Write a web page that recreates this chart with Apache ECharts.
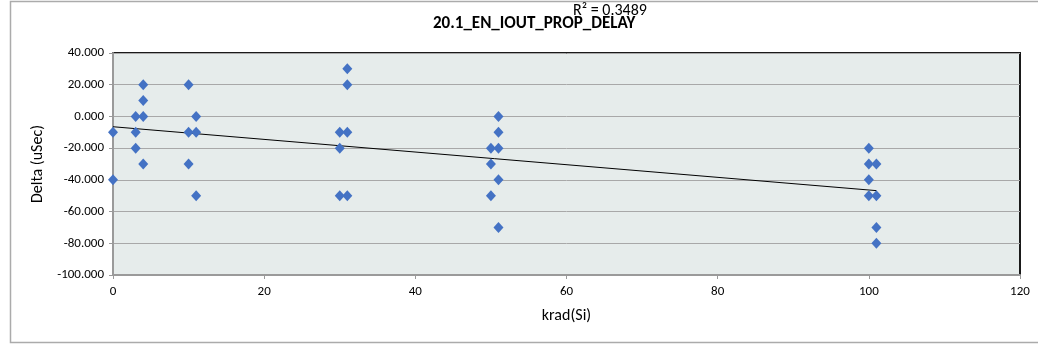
<!DOCTYPE html>
<html>
<head>
<meta charset="utf-8">
<script src="https://cdn.jsdelivr.net/npm/echarts@6/dist/echarts.min.js"></script>
<style>
  html, body { margin: 0; padding: 0; background: #fff; }
  #chart { width: 1038px; height: 346px; }
</style>
</head>
<body>
<div id="chart"></div>
<script>
var titleText = '20.1_EN_IOUT_PROP_DELAY';
var r2Text = 'R\u00b2 = 0.3489';
var xAxisName = 'krad(Si)';
var yAxisName = 'Delta (uSec)';

// dose (krad) for each measurement
var doseValues = [
  0, 0,
  3, 3, 3,
  4, 4, 4, 4,
  10, 10, 10,
  11, 11, 11,
  30, 30, 30,
  31, 31, 31, 31,
  50, 50, 50,
  51, 51, 51, 51, 51,
  100, 100, 100, 100,
  101, 101, 101, 101
];
// delta (uSec) for each measurement
var deltaValues = [
  -10, -40,
  0, -10, -20,
  20, 10, 0, -30,
  20, -10, -30,
  0, -10, -50,
  -10, -20, -50,
  30, 20, -10, -50,
  -20, -30, -50,
  0, -10, -20, -40, -70,
  -20, -30, -40, -50,
  -30, -50, -70, -80
];
// linear trendline end points
var trendX = [0, 101];
var trendY = [-6.5, -46.8];

var points = doseValues.map(function (x, i) { return [x, deltaValues[i]]; });
var trend = trendX.map(function (x, i) { return [x, trendY[i]]; });

var font = "'Carlito', 'Liberation Sans', Arial, sans-serif";

var chart = echarts.init(document.getElementById('chart'), null, { renderer: 'canvas' });
chart.setOption({
  animation: false,
  backgroundColor: '#ffffff',
  textStyle: { fontFamily: font },
  graphic: [
    { type: 'rect', z: -10, shape: { x: 10.5, y: 1.5, width: 1040, height: 341 },
      style: { fill: 'none', stroke: '#ABABAB', lineWidth: 1.5 } },
    { type: 'text', left: 433, top: 15, z: 10,
      style: { text: titleText, font: 'bold 17px ' + font, fill: '#000' } },
    { type: 'text', left: 573, top: 3, z: 11,
      style: { text: r2Text, font: '16px ' + font, fill: '#000' } }
  ],
  grid: {
    left: 113, right: 18, top: 53, bottom: 71,
    show: true, backgroundColor: '#E6ECEB', borderColor: '#1a1a1a', borderWidth: 2
  },
  xAxis: {
    type: 'value', min: 0, max: 120, interval: 20,
    name: xAxisName, nameLocation: 'middle', nameGap: 33,
    nameTextStyle: { fontSize: 16, color: '#000', fontFamily: font },
    axisLine: { show: true, onZero: false, lineStyle: { color: '#9A9A9A', width: 2 } },
    axisTick: { show: true, length: 4, lineStyle: { color: '#9A9A9A' } },
    axisLabel: { fontSize: 13, color: '#000', margin: 10, fontFamily: font },
    splitLine: { show: false }
  },
  yAxis: {
    type: 'value', min: -100, max: 40, interval: 20,
    name: yAxisName, nameLocation: 'middle', nameGap: 62, nameRotate: 90,
    nameTextStyle: { fontSize: 16, color: '#000', fontFamily: font },
    axisLine: { show: true, onZero: false, lineStyle: { color: '#9A9A9A', width: 2 } },
    axisTick: { show: true, length: 4, lineStyle: { color: '#9A9A9A' } },
    axisLabel: { fontSize: 13, color: '#000', margin: 9, fontFamily: font,
      formatter: function (v) { return v.toFixed(3); } },
    splitLine: { show: true, lineStyle: { color: '#A8A8A8', width: 1 } }
  },
  series: [
    {
      type: 'line', data: trend, symbol: 'none', silent: true, z: 3,
      lineStyle: { color: '#000', width: 1 }
    },
    {
      type: 'scatter', data: points, symbol: 'diamond', symbolSize: [10, 11], z: 4,
      itemStyle: { color: '#4472C4', opacity: 1 }
    }
  ]
});
</script>
</body>
</html>
